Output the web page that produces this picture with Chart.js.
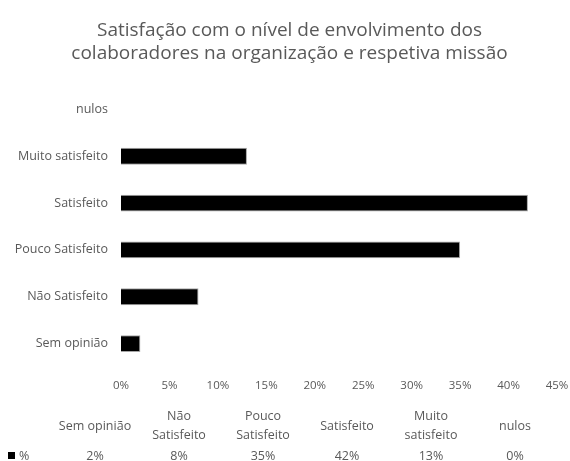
<!DOCTYPE html>
<html>
<head>
<meta charset="utf-8">
<script src="https://cdn.jsdelivr.net/npm/chart.js@4.4.1/dist/chart.umd.min.js"></script>
<style>
    html, body { margin: 0; padding: 0; background: #fff; }
    #wrap { width: 570px; height: 461px; }
</style>
</head>
<body>
<div id="wrap"><canvas id="chart"></canvas></div>
<script>
const categories = ['Sem opinião', 'Não Satisfeito', 'Pouco Satisfeito', 'Satisfeito', 'Muito satisfeito', 'nulos'];
const tableHeaders = [['Sem opinião'], ['Não', 'Satisfeito'], ['Pouco', 'Satisfeito'], ['Satisfeito'], ['Muito', 'satisfeito'], ['nulos']];
const seriesName = '%';
const values = [2, 8, 35, 42, 13, 0];
const axisMax = 45;
const axisStep = 5;
const titleLines = ['Satisfação com o nível de envolvimento dos', 'colaboradores na organização e respetiva missão'];

const textColor = '#595959';
const fontFamily = '"Open Sans", "Noto Sans", sans-serif';

// Excel-style data table under the axis
const dataTable = {
    id: 'dataTable',
    afterDraw(chart) {
        const ctx = chart.ctx;
        ctx.save();
        ctx.font = `12.5px ${fontFamily}`;
        ctx.fillStyle = textColor;
        ctx.textAlign = 'center';
        ctx.textBaseline = 'middle';
        categories.forEach((c, i) => {
            const x = 95 + 84 * i;
            const lines = tableHeaders[i];
            const top = lines.length === 1 ? 426 : 416;
            lines.forEach((l, j) => ctx.fillText(l, x, top + j * 19));
            ctx.fillText(values[i] + '%', x, 456);
        });
        ctx.fillStyle = '#000';
        ctx.fillRect(8, 452, 7, 7);
        ctx.fillStyle = textColor;
        ctx.textAlign = 'left';
        ctx.fillText(seriesName, 19, 456);
        ctx.restore();
    },
};

new Chart(document.getElementById('chart'), {
    type: 'bar',
    data: {
        labels: categories,
        datasets: [{
            label: seriesName,
            data: values,
            backgroundColor: '#000',
            borderColor: '#a6a6a6',
            borderWidth: 1,
            categoryPercentage: 1,
            barPercentage: 0.36,
        }],
    },
    options: {
        indexAxis: 'y',
        responsive: true,
        maintainAspectRatio: false,
        animation: false,
        layout: { padding: { left: 9, right: 0, top: 0, bottom: 64 } },
        plugins: {
            legend: { display: false },
            tooltip: { enabled: false },
            title: {
                display: true,
                text: titleLines,
                color: textColor,
                font: { family: fontFamily, size: 19, weight: 'normal', lineHeight: 1.21 },
                padding: { top: 19, bottom: 21 },
            },
        },
        scales: {
            y: {
                reverse: true,
                grid: { display: false },
                border: { display: false },
                ticks: { color: textColor, font: { family: fontFamily, size: 12.5 }, padding: 5 },
                afterFit: s => { s.width = 112; },
            },
            x: {
                min: 0,
                max: axisMax,
                grid: { display: false },
                border: { display: false },
                ticks: {
                    stepSize: axisStep,
                    color: textColor,
                    font: { family: fontFamily, size: 11.5 },
                    padding: 4,
                    callback: v => v + '%',
                },
                afterFit: s => { s.height = 30; s.paddingRight = 13; s.paddingLeft = 0; },
            },
        },
    },
    plugins: [dataTable],
});
</script>
</body>
</html>
